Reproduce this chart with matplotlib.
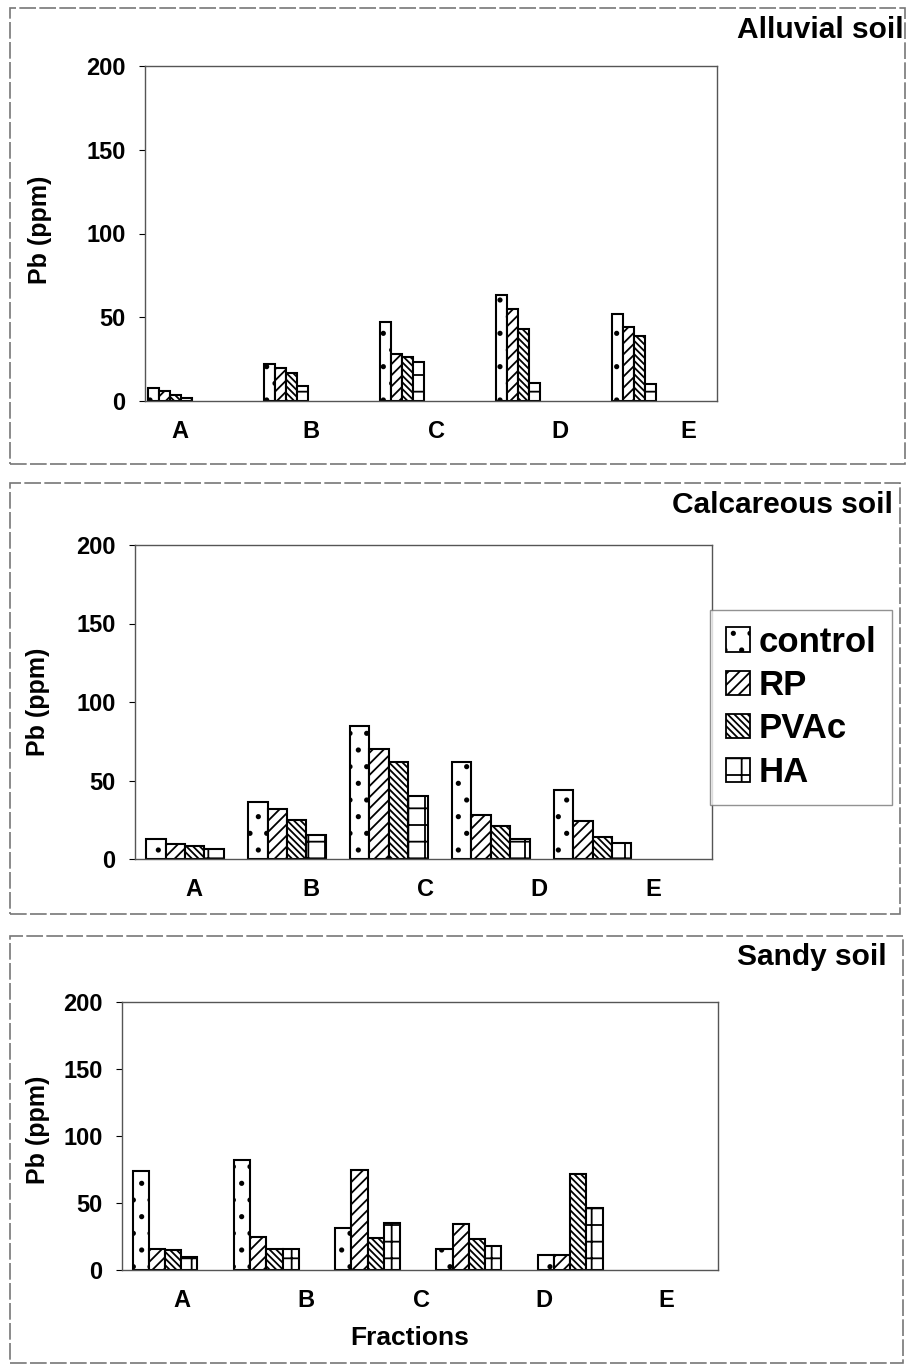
import numpy as np
import matplotlib
matplotlib.use("Agg")
import matplotlib.pyplot as plt
from matplotlib.patches import Patch, Rectangle

plt.rcParams['font.family'] = ['Liberation Sans', 'DejaVu Sans']
plt.rcParams['font.weight'] = 'bold'
plt.rcParams['hatch.linewidth'] = 1.3

fractions = ['A', 'B', 'C', 'D', 'E']
treatments = ['control', 'RP', 'PVAc', 'HA']

# Pb (ppm), one list per treatment
alluvial_control = [7.5, 22, 47, 63, 52]
alluvial_rp = [6, 20, 28, 55, 44]
alluvial_pvac = [3.5, 17, 26, 43, 39]
alluvial_ha = [1.5, 9, 23, 11, 10]

calc_control = [13, 36, 85, 62, 44]
calc_rp = [9.5, 32, 70, 28, 24]
calc_pvac = [8.5, 25, 62, 21, 14]
calc_ha = [6.5, 15, 40, 13, 10]

sandy_control = [74, 82, 31, 16, 11]
sandy_rp = [16, 25, 75, 34, 11]
sandy_pvac = [15, 16, 24, 23, 72]
sandy_ha = [10, 16, 35, 18, 46]

hatches = ['.', '///', '\\\\\\\\\\', '+']

W, H = 907, 1364
fig = plt.figure(figsize=(W / 100, H / 100), dpi=100)

# (left, top, right, bottom) in pixels, bar width, xlim, label positions (axes fraction)
panels = [
    dict(box=(145, 66, 717, 401), bw=0.095, xlim=(-0.22, 4.72),
         lab=[0.061, 0.290, 0.509, 0.726, 0.949],
         data=[alluvial_control, alluvial_rp, alluvial_pvac, alluvial_ha],
         title='Alluvial soil', tpos=(904, 30), ylab=(40, 230)),
    dict(box=(135, 545, 712, 859), bw=0.19, xlim=(-0.49, 5.17),
         lab=[0.102, 0.305, 0.503, 0.700, 0.898],
         data=[calc_control, calc_rp, calc_pvac, calc_ha],
         title='Calcareous soil', tpos=(893, 505), ylab=(38, 702)),
    dict(box=(122, 1002, 718, 1270), bw=0.16, xlim=(-0.425, 5.46),
         lab=[0.101, 0.309, 0.503, 0.708, 0.914],
         data=[sandy_control, sandy_rp, sandy_pvac, sandy_ha],
         title='Sandy soil', tpos=(887, 957), ylab=(38, 1130)),
]

x = np.arange(len(fractions))
for p in panels:
    l, t, r, b = p['box']
    ax = fig.add_axes([l / W, 1 - b / H, (r - l) / W, (b - t) / H])
    bw = p['bw']
    for k, vals in enumerate(p['data']):
        ax.bar(x + (k - 1.5) * bw, vals, bw, color='white', edgecolor='black',
               hatch=hatches[k], linewidth=1.5)
    ax.set_xlim(*p['xlim'])
    ax.set_ylim(0, 200)
    ax.set_yticks([0, 50, 100, 150, 200])
    x0, x1 = p['xlim']
    ax.set_xticks([x0 + f * (x1 - x0) for f in p['lab']])
    ax.set_xticklabels(fractions)
    ax.tick_params(axis='x', length=0, pad=14, labelsize=17)
    ax.tick_params(axis='y', length=4, direction='out', pad=10, labelsize=17)
    for s in ax.spines.values():
        s.set_color('#555555')
        s.set_linewidth(1)
    fig.text(p['tpos'][0] / W, 1 - p['tpos'][1] / H, p['title'], ha='right',
             va='center', fontsize=21.5, fontweight='bold')
    fig.text(p['ylab'][0] / W, 1 - p['ylab'][1] / H, 'Pb (ppm)', rotation=90,
             ha='center', va='center', fontsize=18, fontweight='bold')

fig.text(410 / W, 1 - 1338 / H, 'Fractions', ha='center', va='center',
         fontsize=19, fontweight='bold')

# panel frames
for (l, t, r, b) in [(10, 8, 905, 464), (10, 483, 900, 914), (10, 936, 903, 1363)]:
    fig.patches.append(Rectangle((l / W, 1 - b / H), (r - l) / W, (b - t) / H,
                                 transform=fig.transFigure, fill=False,
                                 edgecolor='#777777', linewidth=1.2,
                                 linestyle=(0, (10, 2))))

handles = [Patch(facecolor='white', edgecolor='black', hatch=h, linewidth=1.3)
           for h in hatches]
leg = fig.legend(handles, treatments, loc='upper left',
                 bbox_to_anchor=(710 / W, 1 - 610 / H),
                 fontsize=25, frameon=True, fancybox=False,
                 handlelength=0.7, handleheight=0.7, handletextpad=0.25,
                 labelspacing=0.3, borderpad=0.45, borderaxespad=0)
leg.get_frame().set_edgecolor('#777777')
leg.get_frame().set_linewidth(1)
for txt in leg.get_texts():
    txt.set_fontweight('bold')

plt.savefig('out.png', dpi=100)
